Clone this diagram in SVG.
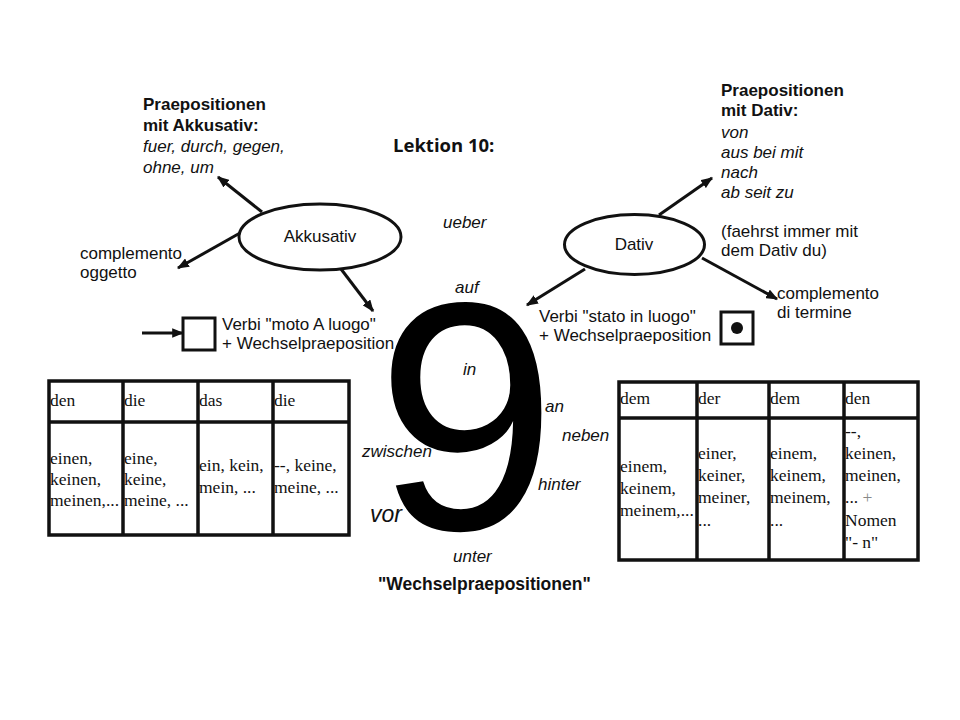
<svg xmlns="http://www.w3.org/2000/svg" width="960" height="720" viewBox="0 0 960 720">
<defs>
<style>
.s{font-family:"Liberation Sans",Arial,sans-serif;font-size:17px;fill:#111}
.b{font-weight:bold}
.i{font-style:italic}
.t{font-family:"Liberation Serif","Times New Roman",serif;font-size:17.5px;fill:#111}
.ln{stroke:#111;stroke-width:3;fill:none}
.box{stroke:#111;stroke-width:3.5;fill:none}
.arr{stroke:#111;stroke-width:3;fill:none;marker-end:url(#ah)}
</style>
<marker id="ah" viewBox="0 0 10 8" refX="9" refY="4" markerWidth="4" markerHeight="3.2" orient="auto">
<path d="M0,0 L10,4 L0,8 z" fill="#111"/>
</marker>
</defs>
<rect width="960" height="720" fill="#fff"/>

<g id="title">
<text x="393" y="152" style="font-family:'Open Sans',Lato,sans-serif;font-weight:bold;font-size:18.5px;fill:#111">Lektion 10:</text>
</g>

<g id="akk-prep">
<text class="s b" x="143" y="110">Praepositionen</text>
<text class="s b" x="143" y="131">mit Akkusativ:</text>
<text class="s i" x="143" y="152">fuer, durch, gegen,</text>
<text class="s i" x="143" y="173">ohne, um</text>
</g>

<g id="akkusativ">
<ellipse class="ln" cx="320" cy="237" rx="81" ry="33" fill="#fff"/>
<text class="s" x="320" y="242" text-anchor="middle">Akkusativ</text>
</g>

<g id="akk-objekt">
<text class="s" x="80" y="259">complemento</text>
<text class="s" x="80" y="278">oggetto</text>
</g>

<g id="moto">
<rect class="ln" x="183" y="318" width="32" height="32"/>
<text class="s" x="222" y="330">Verbi "moto A luogo"</text>
<text class="s" x="222" y="349">+ Wechselpraeposition</text>
</g>

<g id="dat-prep">
<text class="s b" x="721" y="96">Praepositionen</text>
<text class="s b" x="721" y="116">mit Dativ:</text>
<text class="s i" x="721" y="138">von</text>
<text class="s i" x="721" y="158">aus bei mit</text>
<text class="s i" x="721" y="178">nach</text>
<text class="s i" x="721" y="198">ab seit zu</text>
<text class="s" x="721" y="237">(faehrst immer mit</text>
<text class="s" x="721" y="256">dem Dativ du)</text>
</g>

<g id="dativ">
<ellipse class="ln" cx="634.5" cy="244.5" rx="70" ry="30" fill="#fff"/>
<text class="s" x="634" y="250" text-anchor="middle">Dativ</text>
</g>

<g id="dat-termine">
<text class="s" x="777" y="299">complemento</text>
<text class="s" x="777" y="318">di termine</text>
</g>

<g id="stato">
<text class="s" x="539" y="322">Verbi "stato in luogo"</text>
<text class="s" x="539" y="341">+ Wechselpraeposition</text>
<rect class="ln" x="721" y="312" width="32" height="32"/>
<circle cx="737" cy="328" r="6" fill="#111"/>
</g>

<g id="connectors">
<line class="arr" x1="262" y1="212" x2="218" y2="177"/>
<line class="arr" x1="240" y1="233" x2="178" y2="268"/>
<line class="arr" x1="341" y1="269" x2="373" y2="311"/>
<line class="arr" x1="142" y1="333" x2="183" y2="333"/>
<line class="arr" x1="659" y1="215" x2="712" y2="178"/>
<line class="arr" x1="585" y1="269" x2="527" y2="305"/>
<line class="arr" x1="702" y1="258" x2="777" y2="299"/>
</g>

<g id="nine">
<text x="376" y="529" style="font-family:'Liberation Sans',Arial,sans-serif;font-size:325px;fill:#000">9</text>
</g>

<g id="wechsel">
<text class="s i" x="443" y="228">ueber</text>
<text class="s i" x="455" y="293">auf</text>
<text class="s i" x="463" y="375">in</text>
<text class="s i" x="545" y="412">an</text>
<text class="s i" x="562" y="441">neben</text>
<text class="s i" x="362" y="457">zwischen</text>
<text class="s i" x="538" y="490">hinter</text>
<text class="s i" x="370" y="522" style="font-size:23px">vor</text>
<text class="s i" x="453" y="562">unter</text>
<text class="s b" x="378" y="590" style="font-size:17.5px">"Wechselpraepositionen"</text>
</g>

<g id="table-akk">
<text class="t" x="50" y="406">den</text>
<text class="t" x="124" y="406">die</text>
<text class="t" x="199" y="406">das</text>
<text class="t" x="274" y="406">die</text>
<text class="t" x="50" y="464">einen,</text>
<text class="t" x="50" y="485">keinen,</text>
<text class="t" x="50" y="506">meinen,...</text>
<text class="t" x="124" y="464">eine,</text>
<text class="t" x="124" y="485">keine,</text>
<text class="t" x="124" y="506">meine, ...</text>
<text class="t" x="199" y="471">ein, kein,</text>
<text class="t" x="199" y="493">mein, ...</text>
<text class="t" x="274" y="471">--, keine,</text>
<text class="t" x="274" y="493">meine, ...</text>
<rect class="box" x="49" y="381" width="300" height="154"/>
<line class="box" x1="123" y1="381" x2="123" y2="535"/>
<line class="box" x1="198" y1="381" x2="198" y2="535"/>
<line class="box" x1="273" y1="381" x2="273" y2="535"/>
<line class="box" x1="49" y1="422" x2="349" y2="422"/>
</g>

<g id="table-dat">
<text class="t" x="620" y="404">dem</text>
<text class="t" x="698" y="404">der</text>
<text class="t" x="770" y="404">dem</text>
<text class="t" x="845" y="404">den</text>
<text class="t" x="620" y="472">einem,</text>
<text class="t" x="620" y="494">keinem,</text>
<text class="t" x="620" y="516">meinem,...</text>
<text class="t" x="698" y="459">einer,</text>
<text class="t" x="698" y="481">keiner,</text>
<text class="t" x="698" y="503">meiner,</text>
<text class="t" x="698" y="526">...</text>
<text class="t" x="770" y="459">einem,</text>
<text class="t" x="770" y="481">keinem,</text>
<text class="t" x="770" y="503">meinem,</text>
<text class="t" x="770" y="526">...</text>
<text class="t" x="845" y="437">--,</text>
<text class="t" x="845" y="459">keinen,</text>
<text class="t" x="845" y="481">meinen,</text>
<text class="t" x="845" y="503">... <tspan fill="#888">+</tspan></text>
<text class="t" x="845" y="526">Nomen</text>
<text class="t" x="845" y="548">"- n"</text>
<rect class="box" x="619" y="382" width="299" height="178"/>
<line class="box" x1="697" y1="382" x2="697" y2="560"/>
<line class="box" x1="769" y1="382" x2="769" y2="560"/>
<line class="box" x1="844" y1="382" x2="844" y2="560"/>
<line class="box" x1="619" y1="418" x2="918" y2="418"/>
</g>
</svg>
